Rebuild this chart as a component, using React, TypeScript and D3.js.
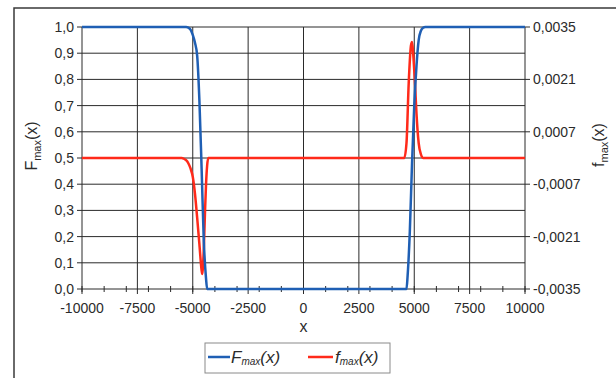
import React from 'react';
import * as d3 from 'd3';

// F_max(x): cumulative curve (left axis)
const bigFData: [number, number][] = [
  [-10000, 1], [-5300, 1], [-5200, 0.998], [-5100, 0.99], [-5000, 0.97],
  [-4900, 0.94], [-4800, 0.89], [-4700, 0.72], [-4600, 0.46], [-4500, 0.18],
  [-4400, 0.04], [-4350, 0], [4650, 0], [4700, 0.05], [4800, 0.22],
  [4900, 0.48], [5000, 0.7], [5100, 0.85], [5200, 0.95], [5300, 0.985],
  [5400, 0.997], [5500, 1], [10000, 1],
];

// f_max(x): density curve (right axis)
const smallFData: [number, number][] = [
  [-10000, 0], [-5500, 0], [-5400, -0.00002], [-5300, -0.00006], [-5200, -0.00014],
  [-5100, -0.00028], [-5000, -0.0005], [-4900, -0.00095], [-4800, -0.0016],
  [-4700, -0.0023], [-4600, -0.003], [-4570, -0.0031], [-4500, -0.0024],
  [-4450, -0.0015], [-4400, -0.0007], [-4350, -0.0002], [-4300, 0],
  [4550, 0], [4650, 0.0004], [4750, 0.002], [4850, 0.003], [4900, 0.0031],
  [4950, 0.0028], [5050, 0.0018], [5100, 0.0012], [5200, 0.0004],
  [5300, 0.0001], [5400, 0], [10000, 0],
];

const xTicks = [-10000, -7500, -5000, -2500, 0, 2500, 5000, 7500, 10000];
const xMinorTicks = d3.range(-10000, 10001, 1000);
const leftTicks = [0, 0.1, 0.2, 0.3, 0.4, 0.5, 0.6, 0.7, 0.8, 0.9, 1.0];
const rightTicks = [0.0035, 0.0021, 0.0007, -0.0007, -0.0021, -0.0035];

const W = 616;
const H = 378;
const margin = { left: 82, right: 91, top: 27, bottom: 89 };
const FONT = '"Liberation Sans", Arial, sans-serif';
const GRID = '#2a2a2a';
const TEXT = '#2b2b2b';
const BLUE = '#1f5fb4';
const RED = '#ff2a1a';

const comma = (v: string) => v.replace('.', ',');

export default function App() {
  const x = d3.scaleLinear().domain([-10000, 10000]).range([margin.left, W - margin.right]);
  const yL = d3.scaleLinear().domain([0, 1]).range([H - margin.bottom, margin.top]);
  const yR = d3.scaleLinear().domain([-0.0035, 0.0035]).range([H - margin.bottom, margin.top]);

  const x0 = x.range()[0];
  const x1 = x.range()[1];
  const y0 = yL.range()[0];
  const y1 = yL.range()[1];

  const lineF = d3
    .line<[number, number]>()
    .x((d) => x(d[0]))
    .y((d) => yL(d[1]))
    .curve(d3.curveMonotoneX);
  const linef = d3
    .line<[number, number]>()
    .x((d) => x(d[0]))
    .y((d) => yR(d[1]))
    .curve(d3.curveMonotoneX);

  return (
    <svg
      width={W}
      height={H}
      style={{ position: 'absolute', left: 0, top: 0, background: '#fff' }}
      fontFamily={FONT}
    >
      {/* outer frame */}
      <path d={`M14,${H + 2} V8 H${W + 2}`} fill="none" stroke="#3a3a3a" strokeWidth={1.5} />

      {/* grid */}
      {leftTicks.map((t) => (
        <line key={'h' + t} x1={x0} x2={x1} y1={yL(t)} y2={yL(t)} stroke={GRID} strokeWidth={1} />
      ))}
      {xTicks.map((t) => (
        <line key={'v' + t} x1={x(t)} x2={x(t)} y1={y1} y2={y0} stroke={GRID} strokeWidth={1} />
      ))}

      {/* left axis ticks + labels */}
      {leftTicks.map((t) => (
        <g key={'l' + t}>
          <line x1={x0 - 5} x2={x0} y1={yL(t)} y2={yL(t)} stroke={GRID} />
          <text x={x0 - 8} y={yL(t)} dy="0.35em" textAnchor="end" fontSize={14} fill={TEXT}>
            {comma(t.toFixed(1))}
          </text>
        </g>
      ))}

      {/* right axis ticks + labels */}
      {rightTicks.map((t) => (
        <g key={'r' + t}>
          <line x1={x1} x2={x1 + 5} y1={yR(t)} y2={yR(t)} stroke={GRID} />
          <text x={x1 + 8} y={yR(t)} dy="0.35em" textAnchor="start" fontSize={14} fill={TEXT}>
            {comma(t.toFixed(4))}
          </text>
        </g>
      ))}

      {/* x axis ticks + labels */}
      {xMinorTicks.map((t) => (
        <line key={'m' + t} x1={x(t)} x2={x(t)} y1={y0 - 3} y2={y0 + 3} stroke={GRID} />
      ))}
      {xTicks.map((t) => (
        <g key={'x' + t}>
          <line x1={x(t)} x2={x(t)} y1={y0} y2={y0 + 5} stroke={GRID} />
          <text x={x(t)} y={y0 + 24} textAnchor="middle" fontSize={14} fill={TEXT}>
            {t}
          </text>
        </g>
      ))}

      {/* curves */}
      <path d={linef(smallFData) || ''} fill="none" stroke={RED} strokeWidth={2.5} strokeLinejoin="round" />
      <path d={lineF(bigFData) || ''} fill="none" stroke={BLUE} strokeWidth={2.5} strokeLinejoin="round" />

      {/* axis titles */}
      <text x={(x0 + x1) / 2} y={332} textAnchor="middle" fontSize={16} fill={TEXT}>
        x
      </text>
      <text transform="translate(37,146) rotate(-90)" textAnchor="middle" fontSize={16} fill={TEXT}>
        F<tspan fontSize={11} dy={4}>max</tspan>
        <tspan dy={-4}>(x)</tspan>
      </text>
      <text transform="translate(604,145) rotate(-90)" textAnchor="middle" fontSize={16} fill={TEXT}>
        f<tspan fontSize={11} dy={4}>max</tspan>
        <tspan dy={-4}>(x)</tspan>
      </text>

      {/* legend */}
      <rect x={205} y={343} width={185} height={30} fill="#fff" stroke="#8a8a8a" strokeWidth={1} />
      <line x1={208} x2={230} y1={357} y2={357} stroke={BLUE} strokeWidth={2.5} />
      <text x={231} y={363} fontSize={17} fontStyle="italic" fill={TEXT}>
        F<tspan fontSize={10} dy={2}>max</tspan>
        <tspan dy={-2}>(x)</tspan>
      </text>
      <line x1={308} x2={333} y1={357} y2={357} stroke={RED} strokeWidth={2.5} />
      <text x={335} y={363} fontSize={17} fontStyle="italic" fill={TEXT}>
        f<tspan fontSize={10} dy={2}>max</tspan>
        <tspan dy={-2}>(x)</tspan>
      </text>
    </svg>
  );
}
